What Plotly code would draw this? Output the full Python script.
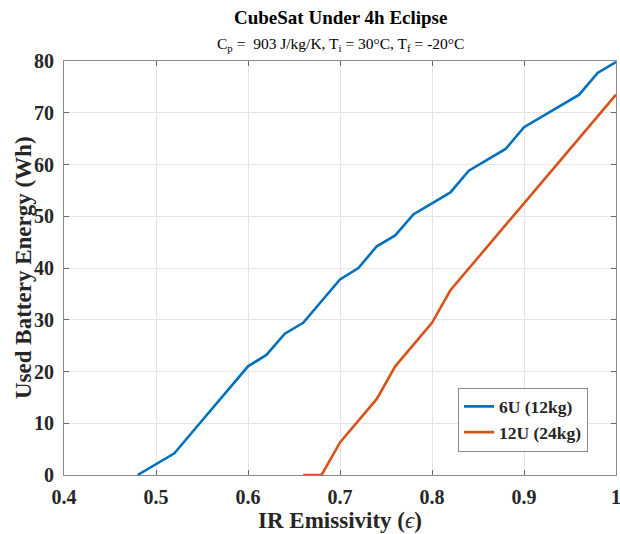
import plotly.graph_objects as go

# Data
emis_6u = [0.48, 0.50, 0.52, 0.54, 0.56, 0.58, 0.60, 0.62, 0.64, 0.66, 0.68, 0.70, 0.72, 0.74,
           0.76, 0.78, 0.80, 0.82, 0.84, 0.86, 0.88, 0.90, 0.92, 0.94, 0.96, 0.98, 1.00]
energy_6u = [0.0, 2.1, 4.2, 8.4, 12.6, 16.8, 21.0, 23.2, 27.3, 29.4, 33.6, 37.8, 40.0, 44.2,
             46.3, 50.4, 52.5, 54.6, 58.8, 60.9, 63.0, 67.2, 69.3, 71.4, 73.5, 77.7, 79.8]
emis_12u = [0.66, 0.68, 0.70, 0.72, 0.74, 0.76, 0.78, 0.80, 0.82, 0.84, 0.86, 0.88, 0.90,
            0.92, 0.94, 0.96, 0.98, 1.00]
energy_12u = [0.0, 0.0, 6.3, 10.5, 14.7, 21.0, 25.2, 29.4, 35.7, 39.9, 44.1, 48.3, 52.5,
              56.7, 60.9, 65.1, 69.3, 73.5]

x_ticks = [0.4, 0.5, 0.6, 0.7, 0.8, 0.9, 1.0]
x_tick_labels = ["0.4", "0.5", "0.6", "0.7", "0.8", "0.9", "1"]
y_ticks = [0, 10, 20, 30, 40, 50, 60, 70, 80]
y_tick_labels = ["0", "10", "20", "30", "40", "50", "60", "70", "80"]

FONT = "Liberation Serif, Times New Roman, serif"

fig = go.Figure()
fig.add_trace(go.Scatter(x=emis_6u, y=energy_6u, mode="lines", name="<b>6U (12kg)</b>",
                         line=dict(color="#0072BD", width=2.6)))
fig.add_trace(go.Scatter(x=emis_12u, y=energy_12u, mode="lines", name="<b>12U (24kg)</b>",
                         line=dict(color="#D95319", width=2.6)))

axis_common = dict(showline=True, linecolor="#8a8a8a", linewidth=1, mirror="ticks",
                   ticks="inside", ticklen=5, tickcolor="#6a6a6a", showgrid=True,
                   gridcolor="#e4e4e4", gridwidth=1, zeroline=False,
                   ticklabeloverflow="allow", automargin=False,
                   tickfont=dict(family=FONT, size=20, color="#262626"))

fig.update_layout(
    width=620, height=534,
    margin=dict(l=64, r=4, t=61, b=59),
    paper_bgcolor="white", plot_bgcolor="white",
    font=dict(family=FONT, color="#262626"),
    showlegend=True,
    legend=dict(x=(588 - 64) / 552, y=(475 - 419.5) / 414, xanchor="right", yanchor="middle",
                bgcolor="white", bordercolor="#8a8a8a", borderwidth=1,
                font=dict(family=FONT, size=17.5, color="#262626"),
                tracegroupgap=0, itemwidth=30),
    xaxis=dict(range=[0.4, 1.0], tickvals=[v for v in x_ticks],
               ticktext=["<b>%s</b>" % t for t in x_tick_labels],
               ticklabelstandoff=4,
               title=dict(text="<b>IR Emissivity (</b><i>ϵ</i><b>)</b>", font=dict(family=FONT, size=23),
                          standoff=4),
               **axis_common),
    yaxis=dict(range=[0, 80], tickvals=y_ticks,
               ticktext=["<b>%s</b>" % t for t in y_tick_labels],
               ticklabelstandoff=5,
               **axis_common),
)

fig.add_annotation(text="<b>Used Battery Energy (Wh)</b>", x=0, y=0.5, xref="paper", yref="y domain",
                   xanchor="center", yanchor="middle", xshift=-41, textangle=-90, showarrow=False,
                   font=dict(family=FONT, size=23, color="#262626"))
fig.add_annotation(text="<b>CubeSat Under 4h Eclipse</b>", x=0.5, y=1, xref="x domain", yref="paper",
                   xanchor="center", yanchor="middle", yshift=44, showarrow=False,
                   font=dict(family=FONT, size=19, color="black"))
fig.add_annotation(text="C<sub>p</sub> =  903 J/kg/K, T<sub>i</sub> = 30°C, T<sub>f</sub> = -20°C",
                   x=0.5, y=1, xref="x domain", yref="paper", xanchor="center", yanchor="middle",
                   yshift=17, showarrow=False, font=dict(family=FONT, size=15.5, color="black"))

fig.write_html("out.html")
